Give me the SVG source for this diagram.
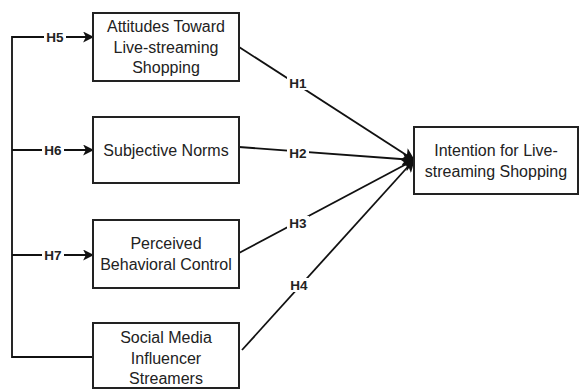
<svg xmlns="http://www.w3.org/2000/svg" width="580" height="390" viewBox="0 0 580 390">
<defs>
<marker id="arr" viewBox="0 0 10 10" refX="9" refY="5" markerWidth="11" markerHeight="11" markerUnits="userSpaceOnUse" orient="auto">
<path d="M0,0 L10,5 L0,10 L2.5,5 Z" fill="#111"/>
</marker>
<marker id="arrBig" viewBox="0 0 10 10" refX="9" refY="5" markerWidth="13" markerHeight="13" markerUnits="userSpaceOnUse" orient="auto">
<path d="M0,0 L10,5 L0,10 L2.5,5 Z" fill="#111"/>
</marker>
</defs>
<style>
.box{fill:#fff;stroke:#222;stroke-width:2}
.t{font-family:"Liberation Sans",Arial,sans-serif;font-size:16px;fill:#222;text-anchor:middle}
.ln{fill:none;stroke:#111;stroke-width:1.8}
.lb{font-family:"Liberation Sans",Arial,sans-serif;font-size:13.5px;font-weight:bold;fill:#222;text-anchor:middle;dominant-baseline:central}
.bg{fill:#fff}
</style>
<rect width="580" height="390" fill="#fff"/>
<g id="connectors">
<path class="ln" d="M93,37 L12,37 L12,357 L93,357"/>
<line class="ln" x1="12" y1="37" x2="93" y2="37" marker-end="url(#arr)"/>
<line class="ln" x1="12" y1="150" x2="93" y2="150" marker-end="url(#arr)"/>
<line class="ln" x1="12" y1="255" x2="93" y2="255" marker-end="url(#arr)"/>
<line class="ln" x1="239" y1="47" x2="414" y2="160" marker-end="url(#arrBig)"/>
<line class="ln" x1="239" y1="147" x2="414" y2="160" marker-end="url(#arrBig)"/>
<line class="ln" x1="239" y1="253" x2="414" y2="160" marker-end="url(#arrBig)"/>
<line class="ln" x1="242" y1="350" x2="414" y2="160" marker-end="url(#arrBig)"/>
<rect class="bg" x="44" y="30" width="22" height="14"/>
<text class="lb" x="55" y="37">H5</text>
<rect class="bg" x="42" y="143" width="22" height="14"/>
<text class="lb" x="53" y="150">H6</text>
<rect class="bg" x="42" y="248" width="22" height="14"/>
<text class="lb" x="53" y="255">H7</text>
<rect class="bg" x="287" y="76" width="22" height="14"/>
<text class="lb" x="298" y="83">H1</text>
<rect class="bg" x="287" y="146" width="22" height="14"/>
<text class="lb" x="298" y="153">H2</text>
<rect class="bg" x="287" y="216" width="22" height="14"/>
<text class="lb" x="298" y="223">H3</text>
<rect class="bg" x="288" y="278" width="22" height="14"/>
<text class="lb" x="299" y="285">H4</text>
</g>
<g id="attitudes">
<rect class="box" x="93" y="13" width="146" height="68"/>
<text class="t" x="166" y="32">Attitudes Toward</text>
<text class="t" x="166" y="52.5">Live-streaming</text>
<text class="t" x="166" y="72.5">Shopping</text>
</g>
<g id="subjective">
<rect class="box" x="93" y="117" width="146" height="66"/>
<text class="t" x="166" y="156">Subjective Norms</text>
</g>
<g id="pbc">
<rect class="box" x="93" y="220" width="146" height="68"/>
<text class="t" x="166" y="249">Perceived</text>
<text class="t" x="166" y="269.5">Behavioral Control</text>
</g>
<g id="smi">
<rect class="box" x="93" y="323" width="146" height="65"/>
<text class="t" x="166" y="343">Social Media</text>
<text class="t" x="166" y="363.5">Influencer</text>
<text class="t" x="166" y="383.5">Streamers</text>
</g>
<g id="intention">
<rect class="box" x="414" y="127" width="164" height="67"/>
<text class="t" x="496" y="156">Intention for Live-</text>
<text class="t" x="496" y="177">streaming Shopping</text>
</g>
</svg>
